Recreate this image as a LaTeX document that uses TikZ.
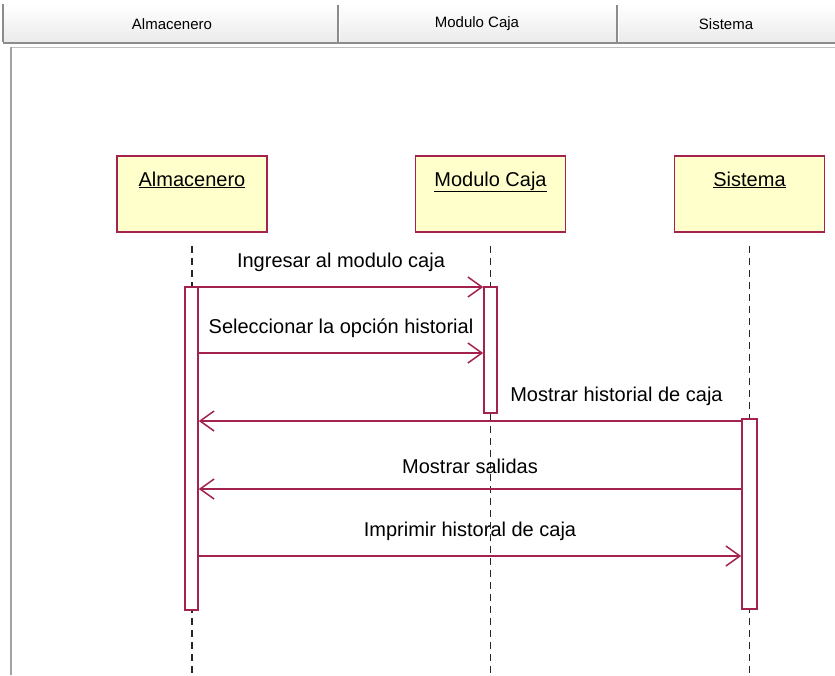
\documentclass[tikz,border=0pt]{standalone}
\usepackage{fontspec}
\setmainfont{Liberation Sans}
\usetikzlibrary{positioning,arrows.meta}

\definecolor{lineRed}{HTML}{A3234E}
\definecolor{objFill}{HTML}{FFFFCC}
\definecolor{barGray}{HTML}{EBEBEB}
\definecolor{edgeGray}{HTML}{8C8C8C}

\tikzset{every picture/.style={line width=0.75pt}}
\tikzset{
  objbox/.style={draw=lineRed, fill=objFill, line width=1.6pt, minimum width=150pt, minimum height=76pt, inner sep=0pt},
  objname/.style={inner sep=0pt, font=\fontsize{20}{24}\selectfont},
  actbox/.style={draw=lineRed, fill=white, line width=1.6pt, minimum width=13pt, inner sep=0pt},
  lifeline/.style={black!85, line width=1.7pt, dash pattern=on 7pt off 5pt},
  msg/.style={draw=lineRed, line width=1.5pt, -{Straight Barb[length=14pt,width=20pt]}},
  msgtext/.style={inner sep=0pt, font=\fontsize{20}{24}\selectfont},
  headtext/.style={inner sep=0pt, font=\fontsize{15}{18}\selectfont},
}

\begin{document}
\begin{tikzpicture}[x=1pt,y=1pt,yscale=-1,xscale=1]
\useasboundingbox (0,0) rectangle (835,675);

% header bar
\shade[top color=white, bottom color=barGray] (3,4) rectangle (835,42);
\draw[edgeGray, line width=1.5pt] (3,43) -- (835,43);
\draw[black!25, line width=1.5pt] (11,47.5) -- (835,47.5);
\draw[edgeGray, line width=1.5pt] (3,4) -- (3,42);
\foreach \sx in {338,617}{
  \draw[edgeGray, line width=1.2pt] (\sx,5) -- (\sx,42);
  \draw[white, line width=1pt] (\sx+1.5,5) -- (\sx+1.5,42);
}
\node[headtext] (hAlm) at (172,24) {Almacenero};
\node[headtext] (hMod) at (477,24) {Modulo Caja};
\node[headtext] (hSis) at (726,24) {Sistema};

% panel border
\draw[edgeGray!80, line width=2pt] (11,47) -- (11,675);

% objects
\node[objbox] (boxA) at (192,194) {};
\node[objbox] (boxM) at (490.5,194) {};
\node[objbox] (boxS) at (749.5,194) {};
\node[objname, below=16pt of boxA.north] (nameA) {\underline{Almacenero}};
\node[objname, below=16pt of boxM.north] (nameM) {\underline{Modulo Caja}};
\node[objname, below=16pt of boxS.north] (nameS) {\underline{Sistema}};

% lifelines
\draw[lifeline] ([yshift=13pt]boxA.south) -- (boxA.south |- 0,675);
\draw[lifeline] ([yshift=13pt]boxM.south) -- (boxM.south |- 0,675);
\draw[lifeline] ([yshift=13pt]boxS.south) -- (boxS.south |- 0,675);

% activations
\node[actbox, minimum height=323pt] (actA) at (191.5,448.5) {};
\node[actbox, minimum height=126pt] (actM) at (490.5,350) {};
\node[actbox, minimum width=15pt, minimum height=190pt] (actS) at (749.5,514) {};

% messages
\coordinate (m1) at (0,287);
\coordinate (m2) at (0,353);
\coordinate (m3) at (0,421);
\coordinate (m4) at (0,489);
\coordinate (m5) at (0,556);

\draw[msg] (actA.east |- m1) -- node[msgtext, above=15pt] (t1) {Ingresar al modulo caja} (actM.west |- m1);
\draw[msg] (actA.east |- m2) -- node[msgtext, above=15pt] (t2) {Seleccionar la opción historial} (actM.west |- m2);
\draw[msg] (actS.west |- m3) -- node[msgtext, pos=0.23, above=15pt] (t3) {Mostrar historial de caja} (actA.east |- m3);
\draw[msg] (actS.west |- m4) -- node[msgtext, above=15pt] (t4) {Mostrar salidas} (actA.east |- m4);
\draw[msg] (actA.east |- m5) -- node[msgtext, above=15pt] (t5) {Imprimir historal de caja} (actS.west |- m5);

\end{tikzpicture}
\end{document}
